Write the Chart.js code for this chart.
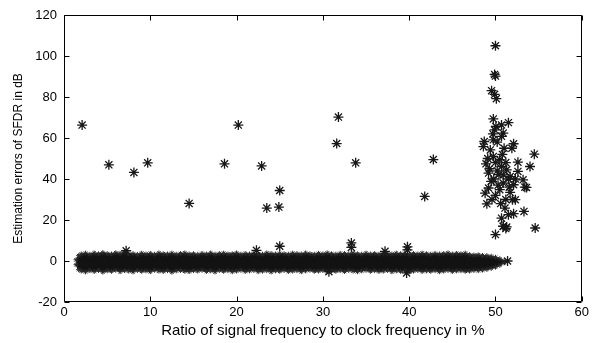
<!DOCTYPE html>
<html>
<head>
<meta charset="utf-8">
<script src="https://cdn.jsdelivr.net/npm/chart.js@4/dist/chart.umd.min.js"></script>
<style>
    html, body { margin: 0; padding: 0; background: #fff; }
    #wrap { width: 592px; height: 343px; position: relative; }
</style>
</head>
<body>
<div id="wrap"><canvas id="myChart"></canvas></div>
<script>
'use strict'

var xTicks = [0, 10, 20, 30, 40, 50, 60];
var yTicks = [-20, 0, 20, 40, 60, 80, 100, 120];

// the dense band of near-zero errors, as top / bottom envelope
var bandX = [1.4, 1.7, 2, 2.5, 3, 3.5, 4, 4.5, 5, 5.5,
    6, 6.5, 7, 7.5, 8, 8.5, 9, 9.5, 10, 10.5,
    11, 11.5, 12, 12.5, 13, 13.5, 14, 14.5, 15, 15.5,
    16, 16.5, 17, 17.5, 18, 18.5, 19, 19.5, 20, 20.5,
    21, 21.5, 22, 22.5, 23, 23.5, 24, 24.5, 25, 25.5,
    26, 26.5, 27, 27.5, 28, 28.5, 29, 29.5, 30, 30.5,
    31, 31.5, 32, 32.5, 33, 33.5, 34, 34.5, 35, 35.5,
    36, 36.5, 37, 37.5, 38, 38.5, 39, 39.5, 40, 40.5,
    41, 41.5, 42, 42.5, 43, 43.5, 44, 44.5, 45, 45.5,
    46, 46.5, 47, 47.5, 48, 48.5, 49, 49.5, 50, 50.5,
    51];
var bandTop = [0.6, 2.6, 3.4, 3.8, 3.3, 3.9, 3.5, 4.1, 3.6, 3.4,
    4.0, 3.7, 4.3, 3.5, 3.6, 3.2, 3.8, 3.4, 3.7, 3.3,
    3.9, 3.5, 3.4, 3.8, 3.3, 3.6, 3.9, 3.4, 3.5, 3.2,
    3.7, 3.4, 3.9, 3.3, 3.6, 3.8, 3.4, 3.5, 3.9, 3.3,
    3.6, 3.4, 3.8, 3.5, 3.3, 3.9, 3.6, 3.4, 3.7, 3.5,
    3.3, 3.8, 3.6, 3.4, 3.9, 3.5, 3.3, 3.7, 3.4, 3.9,
    3.5, 3.3, 3.7, 3.6, 3.4, 3.9, 3.5, 3.3, 3.8, 3.4,
    3.6, 3.3, 3.9, 3.5, 3.4, 3.8, 3.5, 3.7, 3.3, 3.6,
    3.4, 3.8, 3.5, 3.3, 3.7, 3.4, 3.6, 3.9, 3.4, 3.7,
    3.5, 3.8, 3.1, 2.9, 3.0, 2.7, 2.6, 2.3, 1.8, 1.1,
    0.1];
var bandBottom = [-1.8, -4.2, -4.9, -5.3, -4.7, -5.1, -4.6, -5.4, -4.8, -5.0,
    -4.5, -5.2, -4.7, -4.9, -5.3, -4.6, -5.0, -4.8, -5.2, -4.5,
    -4.9, -5.1, -4.7, -5.4, -4.8, -4.6, -5.0, -5.2, -4.7, -4.9,
    -4.5, -5.1, -4.8, -5.3, -4.6, -5.0, -4.7, -5.2, -4.9, -4.5,
    -5.1, -4.8, -4.6, -5.2, -4.9, -4.7, -5.3, -4.8, -5.0, -4.6,
    -5.1, -4.9, -4.7, -5.2, -4.8, -4.5, -5.0, -4.9, -4.6, -5.2,
    -4.8, -5.0, -4.7, -5.1, -4.6, -4.9, -5.2, -4.8, -4.5, -5.0,
    -4.7, -5.1, -4.9, -4.6, -5.2, -4.8, -5.0, -4.7, -5.3, -4.9,
    -4.6, -5.1, -4.8, -5.0, -4.7, -5.2, -4.9, -4.6, -5.1, -4.8,
    -4.7, -5.0, -4.9, -4.6, -4.7, -4.4, -4.1, -3.6, -3.0, -2.1,
    -0.9];

// scattered outliers
var outX = [2.1, 5.2, 8.1, 9.7, 14.5, 18.6, 20.2, 22.9, 23.5, 25.0, 24.9, 31.6, 31.8, 33.8, 41.8, 42.8,
    7.2, 22.3, 25.0, 33.3, 33.3, 37.2, 39.8, 39.8, 30.7, 39.7, 51.4];
var outY = [66.3, 46.9, 43.2, 47.9, 28.1, 47.4, 66.3, 46.4, 25.8, 34.4, 26.3, 57.3, 70.2, 47.9, 31.5, 49.5,
    5.0, 5.2, 7.2, 8.8, 6.6, 4.7, 6.9, 5.4, -5.2, -5.8, 0];

// cluster near 50 %
var clusterX = [50.0, 50.0, 49.9, 49.55, 49.9, 50.1, 49.75, 50.05, 50.7, 51.5, 50.9, 50.7,
    48.7, 49.75, 52.1, 51.9, 48.6, 49.4, 54.5, 49.75, 50.5, 48.9, 52.6, 54.0,
    50.7, 51.3, 52.6, 49.2, 50.4, 51.7, 53.2, 49.5, 50.9, 52.1, 53.6, 49.2,
    50.5, 51.7, 48.8, 52.3, 49.0, 51.1, 52.1, 53.3, 50.7, 51.3, 50.9, 54.6,
    50.0, 49.3, 50.2, 50.8, 51.0, 49.8, 50.3, 51.5, 50.0, 51.2, 49.6, 50.6,
    51.6, 52.3, 49.1, 50.2, 51.2, 50.0, 49.7, 50.9, 53.4, 51.97, 51.5, 49.9,
    50.9, 51.2];
var clusterY = [105, 90.2, 91, 83.1, 81.3, 79.2, 69.3, 65.6, 66.4, 67.5, 62.4, 60.8,
    58.3, 59.1, 57.2, 55, 55.8, 54.2, 52.1, 51, 49.4, 47.4, 48.2, 46.1,
    46.1, 44.5, 43.7, 42.9, 42.1, 41.2, 39.6, 38.8, 38, 37.2, 35.9, 35.6,
    34.8, 33.5, 33.1, 29.9, 27.9, 25.8, 23.1, 24.2, 20.9, 16.6, 17, 16.1,
    12.9, 45, 44, 52, 55, 40, 37, 40, 32, 30, 30, 28,
    36, 40, 50, 58, 48, 48, 62, 42, 36, 29.9, 22.6, 64,
    16.9, 15.8];

function pairs(xs, ys) {
    return xs.map(function (x, i) { return { x: x, y: ys[i] }; });
}

// matlab style box with inward ticks
var frame = {
    id: 'frame',
    afterDraw: function (chart) {
        var c = chart.ctx, a = chart.chartArea;
        var sx = chart.scales.x, sy = chart.scales.y;
        var L = Math.round(a.left) + 0.5, R = Math.round(a.right) - 0.5;
        var T = Math.round(a.top) + 0.5, B = Math.round(a.bottom) - 0.5;
        c.save();
        c.strokeStyle = '#000';
        c.lineWidth = 1;
        c.beginPath();
        c.rect(L, T, R - L, B - T);
        xTicks.forEach(function (v) {
            var p = Math.round(sx.getPixelForValue(v)) + 0.5;
            c.moveTo(p, B); c.lineTo(p, B - 5);
            c.moveTo(p, T); c.lineTo(p, T + 5);
        });
        yTicks.forEach(function (v) {
            var p = Math.round(sy.getPixelForValue(v)) + 0.5;
            c.moveTo(L, p); c.lineTo(L + 5, p);
            c.moveTo(R, p); c.lineTo(R - 5, p);
        });
        c.stroke();
        c.restore();
    }
};

var font = "'Liberation Sans', Arial, sans-serif";

var ctx = document.getElementById('myChart').getContext('2d');
var myChart = new Chart(ctx, {
    type: 'scatter',
    data: {
        datasets: [{
            data: pairs(bandX, bandTop),
            showLine: true,
            fill: '+1',
            tension: 0,
            borderColor: '#121212',
            backgroundColor: '#121212',
            borderWidth: 1,
            pointStyle: 'star',
            pointRadius: 2.5,
            pointBorderColor: '#2a2a2a',
            pointBorderWidth: 1,
            order: 3
        }, {
            data: pairs(bandX, bandBottom),
            showLine: true,
            fill: false,
            tension: 0,
            borderColor: '#121212',
            borderWidth: 1,
            pointStyle: 'star',
            pointRadius: 2.5,
            pointBorderColor: '#2a2a2a',
            pointBorderWidth: 1,
            order: 2
        }, {
            data: pairs(outX, outY),
            pointStyle: 'star',
            pointRadius: 5,
            pointBorderColor: '#181818',
            pointBorderWidth: 1.3,
            order: 1
        }, {
            data: pairs(clusterX, clusterY),
            pointStyle: 'star',
            pointRadius: 5,
            pointBorderColor: '#181818',
            pointBorderWidth: 1.3,
            order: 1
        }]
    },
    options: {
        animation: false,
        responsive: true,
        maintainAspectRatio: false,
        devicePixelRatio: 1,
        layout: { padding: { top: 15, right: 10, left: 0, bottom: 0 } },
        plugins: {
            legend: { display: false },
            tooltip: { enabled: false }
        },
        scales: {
            x: {
                type: 'linear',
                min: 0,
                max: 60,
                grid: { display: false, drawTicks: false },
                border: { display: false },
                afterBuildTicks: function (s) { s.ticks = xTicks.map(function (v) { return { value: v }; }); },
                afterFit: function (s) { s.height = 41; },
                ticks: { color: '#000', padding: 3, maxRotation: 0, font: { family: font, size: 13 } },
                title: {
                    display: true,
                    text: 'Ratio of signal frequency to clock frequency in %',
                    color: '#000',
                    padding: { top: 0, bottom: 3 },
                    font: { family: font, size: 15 }
                }
            },
            y: {
                type: 'linear',
                min: -20,
                max: 120,
                grid: { display: false, drawTicks: false },
                border: { display: false },
                afterBuildTicks: function (s) { s.ticks = yTicks.map(function (v) { return { value: v }; }); },
                afterFit: function (s) { s.width = 64; },
                ticks: { color: '#000', padding: 7, font: { family: font, size: 13 } },
                title: {
                    display: true,
                    text: 'Estimation errors of SFDR in dB',
                    color: '#000',
                    padding: { top: 11, bottom: 0 },
                    font: { family: font, size: 12 }
                }
            }
        }
    },
    plugins: [frame]
});
</script>
</body>
</html>
